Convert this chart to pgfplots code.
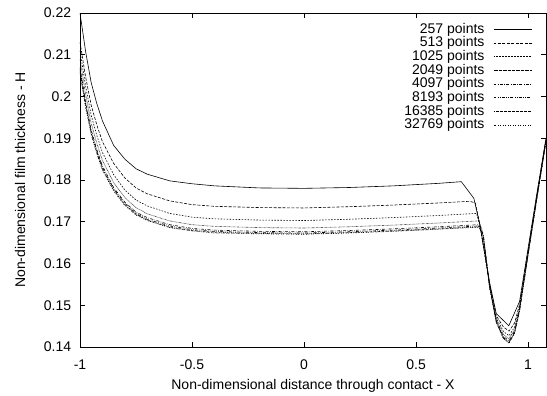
\documentclass[border=0pt]{standalone}
\usepackage{pgfplots}
\pgfplotsset{compat=1.18}
\usepackage{fontspec}
\setmainfont{Liberation Sans}
\begin{document}
\fontsize{14bp}{16bp}\selectfont
\begin{tikzpicture}
\begin{axis}[
  at={(0,0)}, anchor=south west,
  scale only axis, width=466bp, height=334bp,
  xmin=-1, xmax=1.08, ymin=0.14, ymax=0.22,
  xtick={-1,-0.5,0,0.5,1},
  ytick={0.14,0.15,0.16,0.17,0.18,0.19,0.2,0.21,0.22},
  yticklabel style={/pgf/number format/fixed,/pgf/number format/precision=2},
  /pgf/number format/assume math mode=true,
  tick align=inside, major tick length=5bp,
  axis line style={line width=0.9pt},
  every tick/.style={black, line width=0.6pt},
  xlabel={Non-dimensional distance through contact - X},
  ylabel={Non-dimensional film thickness - H},
  xlabel style={yshift=0bp},
  ylabel style={yshift=9bp},
  xticklabel style={yshift=-8bp},
  yticklabel style={xshift=-4bp},
  tick label style={font=\fontsize{14bp}{16bp}\selectfont},
  label style={font=\fontsize{14bp}{16bp}\selectfont},
  legend plot pos=right,
  legend style={draw=none, fill=none, at={(1,1)}, anchor=north east, xshift=-14bp, yshift=-10bp,
    inner sep=0bp, font=\fontsize{14bp}{16bp}\selectfont, row sep=1.4bp,
    nodes={inner sep=0bp}, cells={anchor=east}},
  legend image code/.code={\path[draw=none,fill=none] (0bp,-3.5bp) rectangle (9bp,3.5bp); \draw[#1] (9bp,0bp) -- (47bp,0bp);},
  every axis plot/.append style={black, line width=0.6pt},
  clip=true,
]
\addplot[solid] coordinates {(-1,0.2200)(-0.975,0.2108)(-0.95,0.2033)(-0.925,0.1983)(-0.9,0.1942)(-0.85,0.1883)(-0.8,0.1850)(-0.75,0.1827)(-0.7,0.1814)(-0.6,0.1798)(-0.5,0.1791)(-0.4,0.1786)(-0.2,0.1781)(0,0.1780)(0.2,0.1782)(0.4,0.1786)(0.6,0.1792)(0.702,0.1796)(0.758,0.1756)(0.786,0.1690)(0.828,0.1555)(0.858,0.1480)(0.914,0.1451)(0.962,0.1509)(1.0,0.1636)(1.04,0.1770)(1.08,0.1900)};
\addlegendentry{257 points}
\addplot[dash pattern=on 3pt off 1.5pt] coordinates {(-1,0.2130)(-0.975,0.2047)(-0.95,0.1979)(-0.925,0.1932)(-0.9,0.1892)(-0.85,0.1840)(-0.8,0.1805)(-0.75,0.1781)(-0.7,0.1767)(-0.6,0.1750)(-0.5,0.1741)(-0.4,0.1737)(-0.2,0.1734)(0,0.1733)(0.2,0.1736)(0.4,0.1740)(0.6,0.1745)(0.74,0.1749)(0.765,0.1745)(0.786,0.1690)(0.828,0.1553)(0.858,0.1475)(0.89,0.1448)(0.915,0.1438)(0.94,0.1458)(0.962,0.1502)(1.0,0.1632)(1.04,0.1767)(1.08,0.1898)};
\addlegendentry{513 points}
\addplot[dash pattern=on 1.5pt off 1.5pt] coordinates {(-1,0.2110)(-0.975,0.2025)(-0.95,0.1955)(-0.925,0.1907)(-0.9,0.1866)(-0.85,0.1813)(-0.8,0.1776)(-0.75,0.1752)(-0.7,0.1738)(-0.6,0.1720)(-0.5,0.1711)(-0.4,0.1707)(-0.2,0.1704)(0,0.1703)(0.2,0.1706)(0.4,0.1710)(0.6,0.1715)(0.77,0.1720)(0.786,0.1688)(0.828,0.1550)(0.858,0.1470)(0.89,0.1437)(0.915,0.1427)(0.94,0.1448)(0.962,0.1497)(1.0,0.1628)(1.04,0.1764)(1.08,0.1896)};
\addlegendentry{1025 points}
\addplot[dash pattern=on 0.5pt off 0.8pt] coordinates {(-1,0.2090)(-0.975,0.2005)(-0.95,0.1936)(-0.925,0.1888)(-0.9,0.1847)(-0.85,0.1794)(-0.8,0.1758)(-0.75,0.1734)(-0.7,0.1719)(-0.6,0.1702)(-0.5,0.1693)(-0.4,0.1689)(-0.2,0.1686)(0,0.1685)(0.2,0.1688)(0.4,0.1692)(0.6,0.1697)(0.78,0.1702)(0.795,0.1680)(0.828,0.1548)(0.858,0.1466)(0.89,0.1430)(0.915,0.1420)(0.94,0.1442)(0.962,0.1493)(1.0,0.1625)(1.04,0.1762)(1.08,0.1895)};
\addlegendentry{2049 points}
\addplot[dash pattern=on 3pt off 1.5pt on 0.5pt off 1.5pt] coordinates {(-1,0.2070)(-0.975,0.1987)(-0.95,0.1920)(-0.925,0.1873)(-0.9,0.1834)(-0.85,0.1782)(-0.8,0.1747)(-0.75,0.1723)(-0.7,0.1710)(-0.6,0.1693)(-0.5,0.1684)(-0.4,0.1680)(-0.2,0.1677)(0,0.1676)(0.2,0.1679)(0.4,0.1683)(0.6,0.1688)(0.78,0.1693)(0.80,0.1670)(0.828,0.1546)(0.858,0.1463)(0.89,0.1425)(0.915,0.1415)(0.94,0.1438)(0.962,0.1490)(1.0,0.1623)(1.04,0.1760)(1.08,0.1894)};
\addlegendentry{4097 points}
\addplot[dash pattern=on 3pt off 1.5pt on 0.5pt off 1.5pt on 0.5pt off 1.5pt] coordinates {(-1,0.2065)(-0.975,0.1983)(-0.95,0.1916)(-0.925,0.1869)(-0.9,0.1830)(-0.85,0.1779)(-0.8,0.1744)(-0.75,0.1720)(-0.7,0.1706)(-0.6,0.1690)(-0.5,0.1681)(-0.4,0.1677)(-0.2,0.1674)(0,0.1673)(0.2,0.1676)(0.4,0.1680)(0.6,0.1685)(0.78,0.1690)(0.80,0.1668)(0.828,0.1545)(0.858,0.1461)(0.89,0.1422)(0.915,0.1412)(0.94,0.1436)(0.962,0.1488)(1.0,0.1622)(1.04,0.1759)(1.08,0.1893)};
\addlegendentry{8193 points}
\addplot[dash pattern=on 1.5pt off 1pt on 0.5pt off 1pt] coordinates {(-1,0.2060)(-0.975,0.1978)(-0.95,0.1912)(-0.925,0.1866)(-0.9,0.1827)(-0.85,0.1776)(-0.8,0.1741)(-0.75,0.1718)(-0.7,0.1704)(-0.6,0.1687)(-0.5,0.1679)(-0.4,0.1675)(-0.2,0.1672)(0,0.1671)(0.2,0.1674)(0.4,0.1678)(0.6,0.1683)(0.78,0.1688)(0.80,0.1667)(0.828,0.1544)(0.858,0.1460)(0.89,0.1421)(0.915,0.1410)(0.94,0.1434)(0.962,0.1487)(1.0,0.1621)(1.04,0.1758)(1.08,0.1892)};
\addlegendentry{16385 points}
\addplot[dash pattern=on 1pt off 1pt on 1pt off 2pt] coordinates {(-1,0.2055)(-0.975,0.1974)(-0.95,0.1909)(-0.925,0.1863)(-0.9,0.1824)(-0.85,0.1774)(-0.8,0.1739)(-0.75,0.1716)(-0.7,0.1703)(-0.6,0.1686)(-0.5,0.1678)(-0.4,0.1673)(-0.2,0.1671)(0,0.1670)(0.2,0.1673)(0.4,0.1677)(0.6,0.1682)(0.78,0.1687)(0.80,0.1666)(0.828,0.1543)(0.858,0.1459)(0.89,0.1420)(0.915,0.1409)(0.94,0.1433)(0.962,0.1486)(1.0,0.1620)(1.04,0.1758)(1.08,0.1892)};
\addlegendentry{32769 points}
\end{axis}
\pgfresetboundingbox
\useasboundingbox (-80bp,-49bp) rectangle (467bp,347bp);
\end{tikzpicture}
\end{document}
